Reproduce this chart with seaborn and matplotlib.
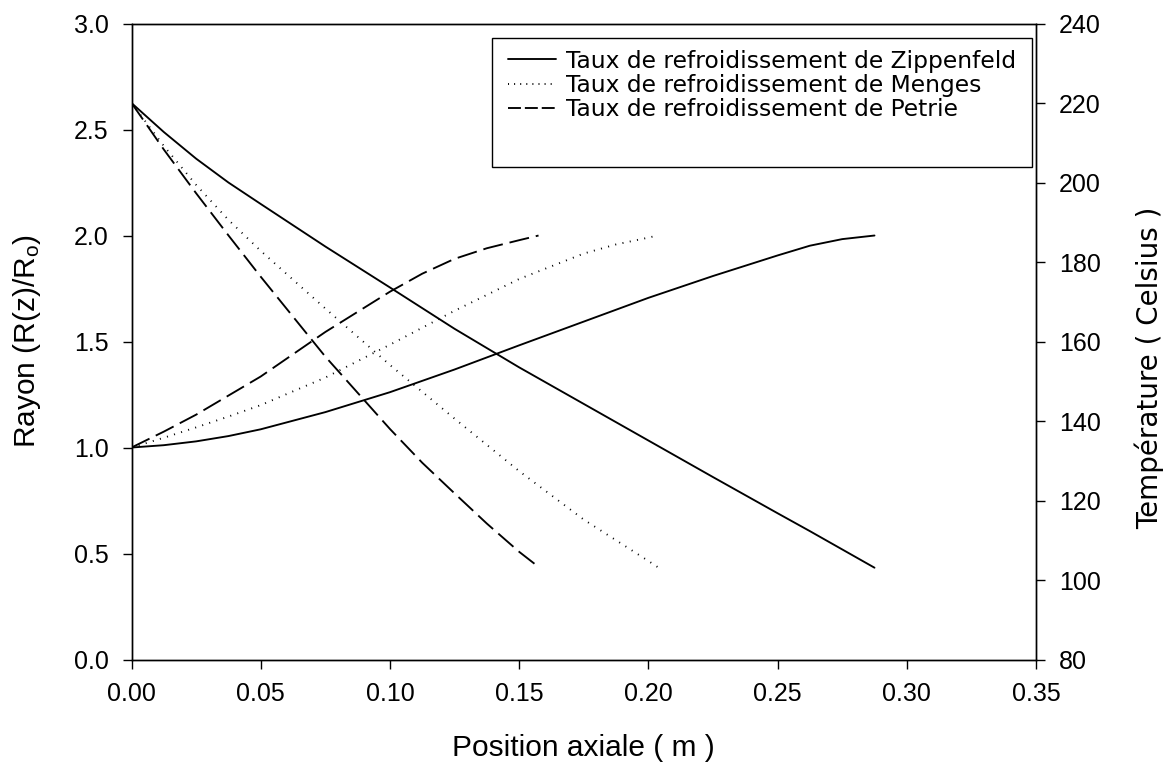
import numpy as np
import pandas as pd
import seaborn as sns
import matplotlib
matplotlib.use('Agg')
import matplotlib.pyplot as plt
from matplotlib.lines import Line2D
from matplotlib.patches import Rectangle
from matplotlib.ticker import FormatStrFormatter

# Zippenfeld (solid)
x_zip = [0, 0.0125, 0.025, 0.0375, 0.05, 0.075, 0.1, 0.125, 0.15, 0.175, 0.2, 0.225, 0.25, 0.2625, 0.275, 0.2875]
r_zip = [1.0, 1.011, 1.029, 1.054, 1.086, 1.167, 1.261, 1.368, 1.482, 1.594, 1.706, 1.809, 1.906, 1.952, 1.983, 2.0]
t_zip = [220, 212.7, 206, 200, 194.6, 183.9, 173.6, 163.2, 153.5, 144.3, 135.1, 125.9, 116.8, 112.3, 107.7, 103.1]

# Menges (dotted)
x_men = [0, 0.0125, 0.025, 0.0375, 0.05, 0.075, 0.1, 0.125, 0.15, 0.175, 0.1875, 0.2, 0.2035]
r_men = [1.0, 1.046, 1.095, 1.146, 1.2, 1.33, 1.485, 1.645, 1.795, 1.915, 1.958, 1.99, 2.0]
t_men = [220, 209.2, 199.4, 190.6, 182.8, 168.3, 154.1, 140.6, 127.4, 115.2, 110.0, 104.8, 103.3]

# Petrie (dashed)
x_pet = [0, 0.0125, 0.025, 0.0375, 0.05, 0.075, 0.1, 0.1125, 0.125, 0.1375, 0.15, 0.1575]
r_pet = [1.0, 1.075, 1.155, 1.245, 1.335, 1.545, 1.735, 1.82, 1.89, 1.94, 1.978, 2.0]
t_pet = [220, 208.3, 197.3, 186.7, 176.3, 156.2, 138.0, 129.5, 121.8, 114.2, 107.1, 103.3]

labels = ['Taux de refroidissement de Zippenfeld',
          'Taux de refroidissement de Menges',
          'Taux de refroidissement de Petrie']

sns.set_theme(style='ticks', rc={'axes.edgecolor': 'black', 'xtick.color': 'black',
                                 'ytick.color': 'black', 'axes.linewidth': 1.0,
                                 'text.color': 'black', 'axes.labelcolor': 'black'})
plt.rcParams['font.family'] = ['Liberation Sans', 'DejaVu Sans']
plt.rcParams['mathtext.default'] = 'regular'

fig = plt.figure(figsize=(11.68, 7.66), dpi=100)
ax = fig.add_axes([0.1126, 0.139, 0.7744, 0.8303])
ax2 = ax.twinx()

lw = 1.35
styles = ['-', (0, (0.55, 3.4)), (0, (10.7, 3.7))]
leg_styles = ['-', (0, (0.55, 2.7)), (0, (6.9, 2.1))]
series = [(x_zip, r_zip, t_zip), (x_men, r_men, t_men), (x_pet, r_pet, t_pet)]

# radius on the left axis, temperature on the right one
for (xs, rs, ts), ls in zip(series, styles):
    sns.lineplot(x=xs, y=rs, ax=ax, color='black', lw=lw, linestyle=ls)
    sns.lineplot(x=xs, y=ts, ax=ax2, color='black', lw=lw, linestyle=ls)

ax.set_xlim(0, 0.35)
ax.set_ylim(0, 3)
ax2.set_ylim(80, 240)
ax.set_xticks(np.arange(0, 0.3501, 0.05))
ax.set_yticks(np.arange(0, 3.01, 0.5))
ax2.set_yticks(np.arange(80, 241, 20))
ax.xaxis.set_major_formatter(FormatStrFormatter('%.2f'))
ax.yaxis.set_major_formatter(FormatStrFormatter('%.1f'))

ax.tick_params(axis='both', direction='out', length=6.5, width=1, labelsize=18, pad=10,
               bottom=True, left=True, top=False, right=False)
ax2.tick_params(axis='y', direction='out', length=6.5, width=1, labelsize=18, pad=10,
                right=True, left=False)

ax.set_xlabel('Position axiale ( m )', fontsize=21.5, labelpad=20)
ax.set_ylabel('Rayon (R(z)/R$_o$)', fontsize=21.5, labelpad=22)
ax2.set_ylabel('Température ( Celsius )', fontsize=20, family=['DejaVu Sans'])
ax2.yaxis.set_label_coords(1.1095, 0.458)

for a in (ax, ax2):
    for sp in a.spines.values():
        sp.set_visible(True)
        sp.set_color('black')
        sp.set_linewidth(1.0)

# legend box
ax2.add_patch(Rectangle((0.3986, 0.7744), 0.597, 0.2028, transform=ax2.transAxes,
                        facecolor='white', edgecolor='black', lw=1.0, zorder=4))
handles = [Line2D([], [], color='black', lw=lw, linestyle=ls) for ls in leg_styles]
leg = ax2.legend(handles, labels, loc='upper left', bbox_to_anchor=(0.4163, 0.959),
                 borderaxespad=0, borderpad=0, frameon=False, handlelength=2.04,
                 handletextpad=0.43, labelspacing=0.06,
                 prop={'family': ['DejaVu Sans'], 'size': 16.8})
leg.set_zorder(5)

fig.savefig('out.png', dpi=100)
